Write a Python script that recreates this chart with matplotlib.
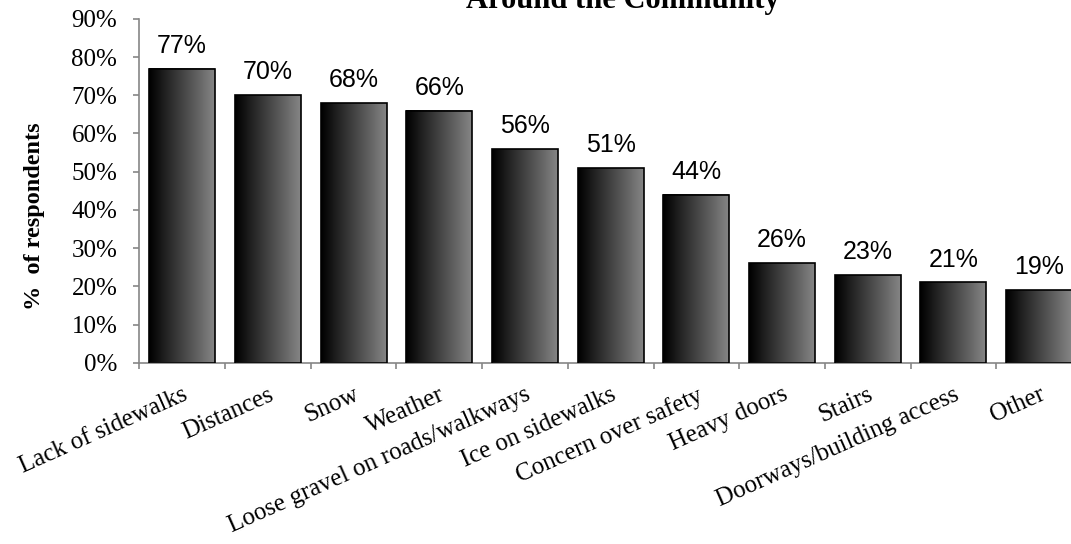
import numpy as np
import matplotlib
matplotlib.use("Agg")
import matplotlib.pyplot as plt
from matplotlib.colors import LinearSegmentedColormap
from matplotlib.ticker import FixedLocator

plt.rcParams["font.family"] = "Liberation Serif"

categories = ["Lack of sidewalks", "Distances", "Snow", "Weather",
              "Loose gravel on roads/walkways", "Ice on sidewalks",
              "Concern over safety", "Heavy doors", "Stairs",
              "Doorways/building access", "Other"]
values = [77, 70, 68, 66, 56, 51, 44, 26, 23, 21, 19]
yticks = [0, 10, 20, 30, 40, 50, 60, 70, 80, 90]

W, H = 1071, 544
fig = plt.figure(figsize=(W / 100, H / 100), dpi=100)
ax = fig.add_axes([139.3 / W, 181.3 / H, 942.7 / W, 343.8 / H])

x = np.arange(len(categories))
bars = ax.bar(x, values, width=0.77, facecolor="none", edgecolor="black",
              linewidth=1.2, zorder=3)

# dark-to-light horizontal shading inside each bar
cmap = LinearSegmentedColormap.from_list("shade", ["#000000", "#858585"])
grad = np.linspace(0, 1, 256).reshape(1, -1)
for b in bars:
    x0, w, h = b.get_x(), b.get_width(), b.get_height()
    ax.imshow(grad, cmap=cmap, extent=[x0, x0 + w, 0, h], aspect="auto",
              interpolation="bilinear", zorder=2)

for b, v in zip(bars, values):
    ax.annotate(f"{v}%", (b.get_x() + b.get_width() / 2, v),
                xytext=(0, 11.5), textcoords="offset points",
                ha="center", va="baseline", fontsize=18,
                family="Liberation Sans")

ax.set_xlim(-0.5, len(categories) - 0.5)
ax.set_ylim(0, 90)

ax.set_yticks(yticks)
ax.set_yticklabels([f"{t}%" for t in yticks], fontsize=18)
ax.set_xticks(x)
ax.set_xticklabels(categories, fontsize=18, rotation=24, ha="right",
                   rotation_mode="anchor")
ax.xaxis.set_minor_locator(FixedLocator(np.arange(-0.5, len(categories), 1)))
ax.tick_params(axis="x", which="major", length=0, pad=15)
ax.tick_params(axis="x", which="minor", length=4.3, width=1.2,
               color="#868686", direction="out")
ax.tick_params(axis="y", length=4.3, width=1.2, color="#868686",
               direction="out", pad=11.5)

for s in ["top", "right"]:
    ax.spines[s].set_visible(False)
for s in ["left", "bottom"]:
    ax.spines[s].set_color("#868686")
    ax.spines[s].set_linewidth(1.2)

fig.text(623 / W, 1 - 8 / H, "Around the Community", ha="center",
         va="baseline", fontsize=22, fontweight="bold")
fig.text(35 / W, 1 - 216 / H, "%  of respondents", rotation=90,
         ha="center", va="center", fontsize=17.5, fontweight="bold")

fig.savefig("out.png", dpi=100)
